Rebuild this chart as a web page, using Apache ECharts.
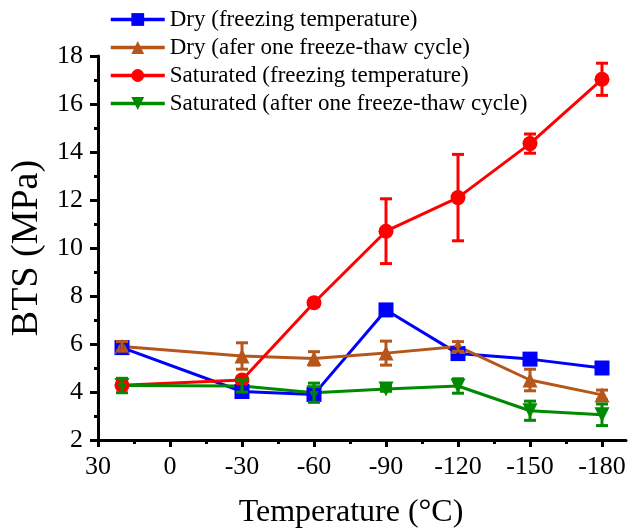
<!DOCTYPE html>
<html>
<head>
<meta charset="utf-8">
<script src="https://cdn.jsdelivr.net/npm/echarts@6/dist/echarts.min.js"></script>
<style>
  html, body {margin: 0; padding: 0; background: #fff;}
  #chart {width: 629px; height: 528px;}
</style>
</head>
<body>
<div id="chart"></div>
<script>
var temps = [20, -30, -60, -90, -120, -150, -180];
var xTicks = [30, 0, -30, -60, -90, -120, -150, -180];
var xMinorTicks = [15, -15, -45, -75, -105, -135, -165];
var seriesNames = [
    'Dry (freezing temperature)',
    'Dry (afer one freeze-thaw cycle)',
    'Saturated (freezing temperature)',
    'Saturated (after one freeze-thaw cycle)'
];
var dryFrozen = [5.85, 4.02, 3.9, 7.42, 5.6, 5.37, 5.0];
var dryFrozenErr = [0.2, 0.2, 0.2, 0.15, 0.2, 0.15, 0.15];
var dryThawed = [5.9, 5.5, 5.4, 5.62, 5.9, 4.5, 3.88];
var dryThawedErr = [0.2, 0.55, 0.28, 0.5, 0.2, 0.45, 0.2];
var satFrozen = [4.28, 4.5, 7.72, 10.7, 12.1, 14.35, 17.03];
var satFrozenErr = [0.15, 0.15, 0.15, 1.35, 1.8, 0.4, 0.67];
var satThawed = [4.27, 4.25, 3.97, 4.13, 4.25, 3.22, 3.05];
var satThawedErr = [0.3, 0.25, 0.4, 0.1, 0.3, 0.4, 0.45];

var colors = ['#0000ff', '#b5561b', '#ff0000', '#008a00'];
var symbols = ['rect', 'triangle', 'circle', 'triangle'];
var rotates = [0, 0, 0, 180];

function pairs(values) {
    var out = [];
    for (var i = 0; i < temps.length; i++) {
        out.push([temps[i], values[i]]);
    }
    return out;
}

function errTriples(values, errs) {
    var out = [];
    for (var i = 0; i < temps.length; i++) {
        out.push([temps[i], values[i], errs[i]]);
    }
    return out;
}

function buildLine(idx, values) {
    return {
        name: seriesNames[idx],
        type: 'line',
        data: pairs(values),
        symbol: symbols[idx],
        symbolRotate: rotates[idx],
        symbolSize: 15,
        color: colors[idx],
        lineStyle: {width: 3, color: colors[idx]},
        itemStyle: {color: colors[idx]},
        z: 3
    };
}

function buildErr(idx, values, errs) {
    return {
        type: 'custom',
        data: errTriples(values, errs),
        z: 4,
        silent: true,
        renderItem: function (params, api) {
            var x = api.value(0);
            var y = api.value(1);
            var e = api.value(2);
            var hi = api.coord([x, y + e]);
            var lo = api.coord([x, y - e]);
            var half = 6;
            var st = {stroke: colors[idx], lineWidth: 3};
            return {
                type: 'group',
                children: [
                    {type: 'line', shape: {x1: hi[0], y1: hi[1], x2: lo[0], y2: lo[1]}, style: st},
                    {type: 'line', shape: {x1: hi[0] - half, y1: hi[1], x2: hi[0] + half, y2: hi[1]}, style: st},
                    {type: 'line', shape: {x1: lo[0] - half, y1: lo[1], x2: lo[0] + half, y2: lo[1]}, style: st}
                ]
            };
        }
    };
}

var font = 'Liberation Serif';
var option = {
    animation: false,
    backgroundColor: '#fff',
    grid: {left: 98, right: 3, top: 56, bottom: 88, containLabel: false, outerBoundsMode: 'none'},
    legend: {
        data: seriesNames,
        orient: 'vertical',
        left: 104,
        top: 3,
        itemWidth: 54,
        itemHeight: 16,
        itemGap: 5,
        lineStyle: {width: 3.5},
        textStyle: {fontFamily: font, fontSize: 23, color: '#000', lineHeight: 22}
    },
    xAxis: [{
        type: 'value',
        inverse: true,
        min: -190,
        max: 30,
        name: 'Temperature (°C)',
        nameLocation: 'middle',
        nameGap: 57,
        nameTextStyle: {fontFamily: font, fontSize: 32, color: '#000', padding: [0, 22, 0, 0]},
        axisLine: {onZero: false, lineStyle: {color: '#000', width: 3}},
        axisTick: {show: true, length: 7, customValues: xTicks, lineStyle: {color: '#000', width: 3}},
        axisLabel: {fontFamily: font, fontSize: 26, color: '#000', margin: 14, customValues: xTicks},
        splitLine: {show: false}
    }, {
        // minor ticks only
        type: 'value',
        inverse: true,
        min: -190,
        max: 30,
        position: 'bottom',
        axisLine: {show: false, onZero: false},
        axisTick: {show: true, length: 4, customValues: xMinorTicks, lineStyle: {color: '#000', width: 3}},
        axisLabel: {show: false},
        splitLine: {show: false}
    }],
    yAxis: {
        type: 'value',
        min: 2,
        max: 18,
        interval: 2,
        name: 'BTS (MPa)',
        nameLocation: 'middle',
        nameGap: 46,
        nameTextStyle: {fontFamily: font, fontSize: 38, color: '#000'},
        axisLine: {show: true, onZero: false, lineStyle: {color: '#000', width: 3}},
        axisTick: {show: true, length: 8, lineStyle: {color: '#000', width: 3}},
        minorTick: {show: true, splitNumber: 2, length: 4, lineStyle: {color: '#000', width: 3}},
        axisLabel: {fontFamily: font, fontSize: 26, color: '#000', margin: 15},
        splitLine: {show: false}
    },
    series: [
        buildLine(0, dryFrozen),
        buildLine(1, dryThawed),
        buildLine(2, satFrozen),
        buildLine(3, satThawed),
        buildErr(0, dryFrozen, dryFrozenErr),
        buildErr(1, dryThawed, dryThawedErr),
        buildErr(2, satFrozen, satFrozenErr),
        buildErr(3, satThawed, satThawedErr)
    ]
};

var chart = echarts.init(document.getElementById('chart'), null, {renderer: 'canvas'});
chart.setOption(option);
</script>
</body>
</html>
